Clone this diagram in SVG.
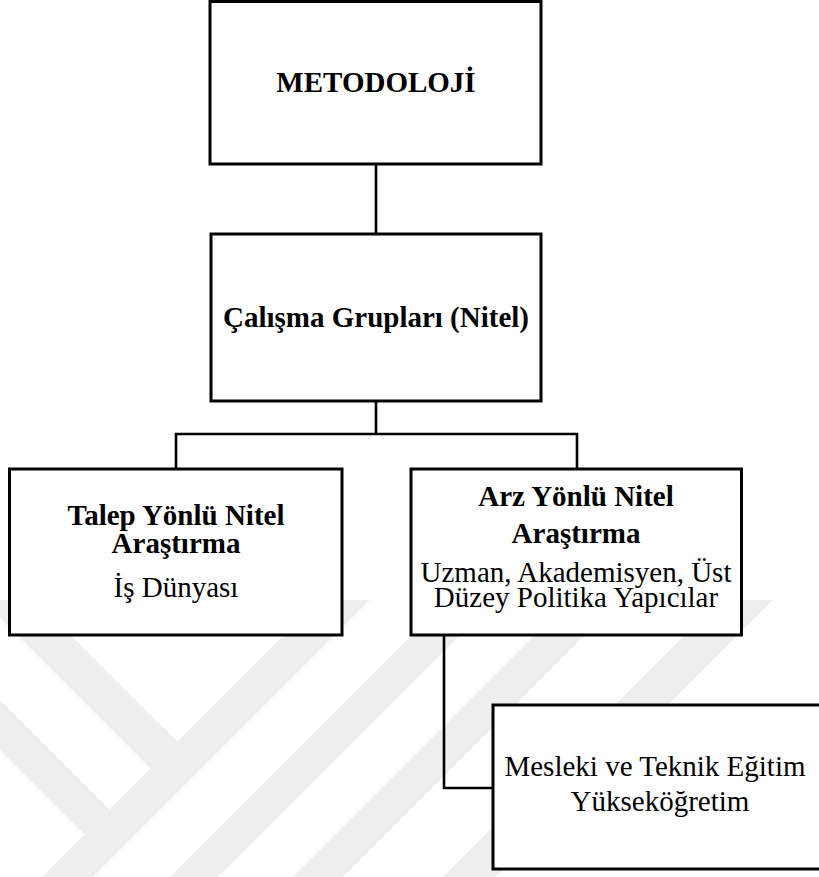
<svg xmlns="http://www.w3.org/2000/svg" width="819" height="877" viewBox="0 0 819 877">
  <style>
    .box { fill: #ffffff; stroke: #000000; stroke-width: 3; }
    .wire { fill: none; stroke: #000000; stroke-width: 2.6; }
    .t { font-family: "Liberation Serif", "Times New Roman", serif; font-size: 29px; fill: #000000; text-anchor: middle; }
    .b { font-weight: bold; }
    .wm { fill: #eeeeee; }
  </style>
  <defs>
    <clipPath id="wmClip">
      <rect x="0" y="600" width="819" height="277"/>
    </clipPath>
  </defs>

  <!-- faint background emblem -->
  <g id="watermark" clip-path="url(#wmClip)">
    <!-- bands rising to the right -->
    <polygon class="wm" points="919,0 970,0 70,900 19,900"/>
    <polygon class="wm" points="1047,0 1095,0 195,900 147,900"/>
    <polygon class="wm" points="1170,0 1220,0 320,900 270,900"/>
    <polygon class="wm" points="1320,0 1373,0 473,900 420,900"/>
    <!-- bands falling to the right, joining the first rising band -->
    <polygon class="wm" points="0,618 0,565 177.5,741.5 150.5,768.5"/>
    <polygon class="wm" points="0,750 0,700 109.5,809.5 84.5,834.5"/>
  </g>

  <g id="connectors">
    <line class="wire" x1="376" y1="164" x2="376" y2="234"/>
    <line class="wire" x1="376" y1="401" x2="376" y2="434"/>
    <polyline class="wire" points="176,469 176,434 577,434 577,469"/>
    <polyline class="wire" points="444,635 444,788 493,788"/>
  </g>

  <g id="metodoloji">
    <rect class="box" x="210" y="1.5" width="331" height="162.5"/>
    <text class="t b" x="376" y="92">METODOLOJİ</text>
  </g>

  <g id="calisma-gruplari">
    <rect class="box" x="211" y="234" width="330" height="167"/>
    <text class="t b" x="376" y="327">Çalışma Grupları (Nitel)</text>
  </g>

  <g id="talep-yonlu">
    <rect class="box" x="9.5" y="469" width="332.5" height="166"/>
    <text class="t b" x="176" y="525">Talep Yönlü Nitel</text>
    <text class="t b" x="176" y="553">Araştırma</text>
    <text class="t" x="176" y="597">İş Dünyası</text>
  </g>

  <g id="arz-yonlu">
    <rect class="box" x="411" y="469" width="330.5" height="166"/>
    <text class="t b" x="576" y="506">Arz Yönlü Nitel</text>
    <text class="t b" x="576" y="543">Araştırma</text>
    <text class="t" x="576" y="582">Uzman, Akademisyen, Üst</text>
    <text class="t" x="576" y="607">Düzey Politika Yapıcılar</text>
  </g>

  <g id="mesleki-teknik">
    <rect class="box" x="493" y="705" width="329" height="164"/>
    <text class="t" x="655" y="776">Mesleki ve Teknik Eğitim</text>
    <text class="t" x="660" y="811">Yükseköğretim</text>
  </g>
</svg>
